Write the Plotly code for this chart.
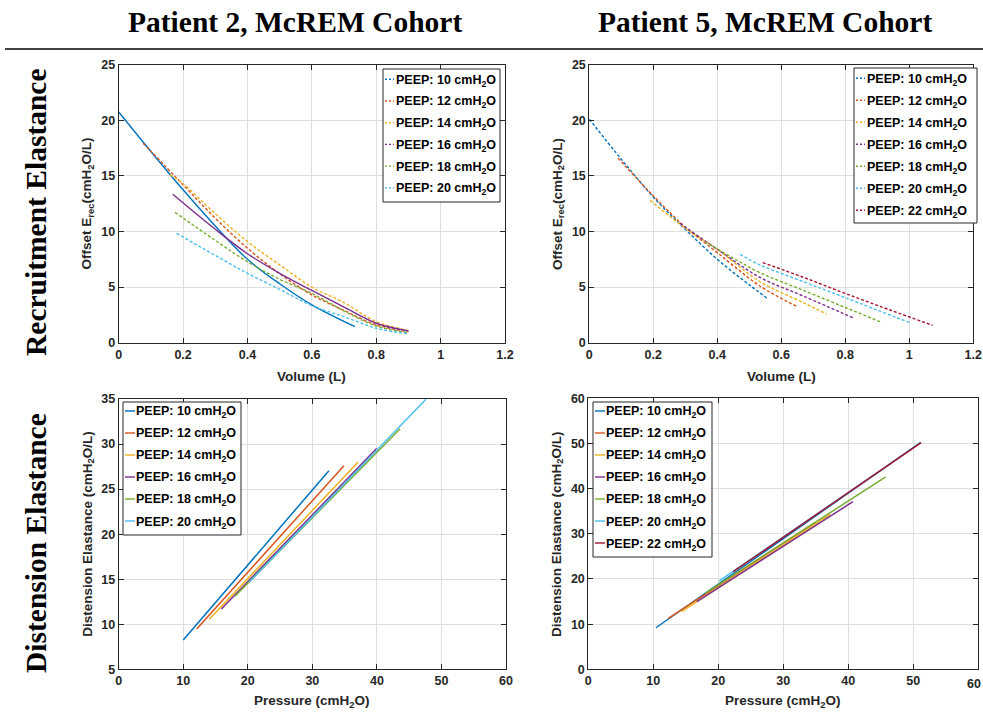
import plotly.graph_objects as go

W, H = 983, 715

# MATLAB-style default line colours
COLORS = ["#0072BD", "#D95319", "#EDB120", "#7E2F8E", "#77AC30", "#4DBEEE", "#A2142F"]

PEEP_P2 = [10, 12, 14, 16, 18, 20]
PEEP_P5 = [10, 12, 14, 16, 18, 20, 22]

# Patient 2 - offset recruitment elastance vs volume, one list per PEEP level
P2_REC_VOL = [
    [0.0, 0.1, 0.2, 0.3, 0.4, 0.5, 0.6, 0.734],
    [0.076, 0.2, 0.3, 0.4, 0.5, 0.6, 0.7, 0.8, 0.9],
    [0.16, 0.2, 0.3, 0.4, 0.5, 0.6, 0.7, 0.8, 0.9],
    [0.168, 0.3, 0.4, 0.5, 0.6, 0.7, 0.8, 0.9],
    [0.175, 0.3, 0.4, 0.5, 0.6, 0.7, 0.8, 0.9],
    [0.18, 0.3, 0.4, 0.5, 0.6, 0.7, 0.8, 0.9],
]
P2_REC_E = [
    [20.75, 17.2, 13.75, 10.5, 7.5, 5.3, 3.4, 1.44],
    [17.93, 14.2, 11.2, 8.5, 6.2, 4.3, 2.9, 1.6, 1.0],
    [15.1, 14.3, 11.6, 9.1, 7.0, 5.0, 3.6, 1.9, 1.1],
    [13.35, 10.2, 8.0, 6.24, 4.7, 3.2, 1.75, 1.05],
    [11.72, 9.2, 7.28, 5.7, 4.44, 2.85, 1.5, 0.9],
    [9.84, 7.85, 6.24, 4.8, 3.33, 2.34, 1.3, 0.8],
]

# Patient 5 - offset recruitment elastance vs volume
P5_REC_VOL = [
    [0.0, 0.1, 0.2, 0.3, 0.4, 0.5, 0.556],
    [0.09, 0.2, 0.3, 0.4, 0.533, 0.646],
    [0.19, 0.3, 0.4, 0.533, 0.669, 0.742],
    [0.283, 0.4, 0.533, 0.669, 0.828],
    [0.361, 0.45, 0.533, 0.669, 0.804, 0.911],
    [0.471, 0.533, 0.669, 0.804, 1.007],
    [0.542, 0.669, 0.804, 0.94, 1.073],
]
P5_REC_E = [
    [20.1, 16.5, 13.1, 10.2, 7.5, 5.2, 4.0],
    [16.6, 13.2, 10.4, 8.1, 5.1, 3.3],
    [12.8, 10.3, 8.4, 5.49, 3.6, 2.58],
    [10.74, 8.4, 5.88, 4.19, 2.19],
    [9.08, 7.6, 6.3, 4.71, 3.12, 1.86],
    [7.95, 7.0, 5.49, 4.0, 1.74],
    [7.2, 5.88, 4.38, 2.94, 1.56],
]

# Patient 2 - distension elastance vs pressure (start, end)
P2_DIS_P = [
    [10.0, 32.57], [12.08, 34.9], [14.03, 37.1],
    [15.9, 39.95], [18.0, 43.6], [20.2, 47.6],
]
P2_DIS_E = [
    [8.25, 27.04], [9.47, 27.6], [10.55, 28.0],
    [11.7, 29.5], [13.1, 31.7], [14.65, 34.97],
]

# Patient 5 - distension elastance vs pressure (start, end)
P5_DIS_P = [
    [10.4, 51.1], [12.3, 35.0], [14.36, 37.2], [16.7, 40.7],
    [17.95, 45.75], [20.15, 45.0], [22.3, 51.2],
]
P5_DIS_E = [
    [9.2, 50.2], [11.3, 32.6], [12.75, 34.3], [14.97, 37.1],
    [16.8, 42.6], [19.6, 44.07], [21.6, 50.2],
]

AXIS_COLOR = "#262626"
GRID_COLOR = "#DFDFDF"
SANS = "Liberation Sans, Arial, sans-serif"
TICK_FONT = dict(family=SANS, size=12.5, color=AXIS_COLOR, weight="bold")
TITLE_FONT = dict(family=SANS, size=13.5, color=AXIS_COLOR, weight="bold")
HEAD_FONT = dict(family="Liberation Serif, Times New Roman, serif",
                 size=29.5, color="black", weight="bold")
LEGEND_FONT = dict(family=SANS, size=12.5, color="black", weight="bold")


def fx(px):
    return px / W


def fy(py):
    return 1 - py / H


def axis_style(**kw):
    d = dict(showline=True, linecolor=AXIS_COLOR, linewidth=1, mirror="ticks",
             ticks="inside", ticklen=5, tickcolor=AXIS_COLOR, tickwidth=1,
             showgrid=True, gridcolor=GRID_COLOR, gridwidth=1, zeroline=False,
             tickfont=TICK_FONT, automargin=False)
    d.update(kw)
    return d


fig = go.Figure()

# Panel boxes in pixels: (left, right, top, bottom)
PANELS = {
    1: (118.7, 505.0, 64.7, 342.7),
    2: (589.3, 973.3, 64.7, 342.7),
    3: (118.7, 506.0, 399.0, 669.3),
    4: (588.3, 978.3, 398.3, 669.3),
}

DASH = "3px,2px"

# Recruitment elastance curves
for i, (vols, es) in enumerate(zip(P2_REC_VOL, P2_REC_E)):
    solid = i in (0, 3)
    fig.add_trace(go.Scatter(
        x=vols, y=es, mode="lines", xaxis="x", yaxis="y",
        line=dict(color=COLORS[i], width=1.4, shape="spline", smoothing=1.0,
                  dash="solid" if solid else DASH),
        name=f"PEEP: {PEEP_P2[i]} cmH2O", showlegend=False))

for i, (vols, es) in enumerate(zip(P5_REC_VOL, P5_REC_E)):
    fig.add_trace(go.Scatter(
        x=vols, y=es, mode="lines", xaxis="x2", yaxis="y2",
        line=dict(color=COLORS[i], width=1.4, shape="spline", smoothing=1.0,
                  dash=DASH),
        name=f"PEEP: {PEEP_P5[i]} cmH2O", showlegend=False))

# Distension elastance lines
for i, (ps, es) in enumerate(zip(P2_DIS_P, P2_DIS_E)):
    fig.add_trace(go.Scatter(
        x=ps, y=es, mode="lines", xaxis="x3", yaxis="y3",
        line=dict(color=COLORS[i], width=1.5),
        name=f"PEEP: {PEEP_P2[i]} cmH2O", showlegend=False))

for i, (ps, es) in enumerate(zip(P5_DIS_P, P5_DIS_E)):
    fig.add_trace(go.Scatter(
        x=ps, y=es, mode="lines", xaxis="x4", yaxis="y4",
        line=dict(color=COLORS[i], width=1.5),
        name=f"PEEP: {PEEP_P5[i]} cmH2O", showlegend=False))

VOL_TICKS = [0, 0.2, 0.4, 0.6, 0.8, 1.0, 1.2]
VOL_TEXT = ["0", "0.2", "0.4", "0.6", "0.8", "1", "1.2"]
P_TICKS = [0, 10, 20, 30, 40, 50, 60]

l, r, t, b = PANELS[1]
fig.update_layout(
    xaxis=axis_style(domain=[fx(l), fx(r)], range=[0, 1.2], anchor="y",
                     tickvals=VOL_TICKS, ticktext=VOL_TEXT),
    yaxis=axis_style(domain=[fy(b), fy(t)], range=[0, 25], anchor="x",
                     tickvals=[0, 5, 10, 15, 20, 25]),
)
l, r, t, b = PANELS[2]
fig.update_layout(
    xaxis2=axis_style(domain=[fx(l), fx(r)], range=[0, 1.2], anchor="y2",
                      tickvals=VOL_TICKS, ticktext=VOL_TEXT),
    yaxis2=axis_style(domain=[fy(b), fy(t)], range=[0, 25], anchor="x2",
                      tickvals=[0, 5, 10, 15, 20, 25]),
)
l, r, t, b = PANELS[3]
fig.update_layout(
    xaxis3=axis_style(domain=[fx(l), fx(r)], range=[0, 60], anchor="y3",
                      tickvals=P_TICKS),
    yaxis3=axis_style(domain=[fy(b), fy(t)], range=[5, 35], anchor="x3",
                      tickvals=[5, 10, 15, 20, 25, 30, 35]),
)
l, r, t, b = PANELS[4]
fig.update_layout(
    xaxis4=axis_style(domain=[fx(l), fx(r)], range=[0, 60], anchor="y4",
                      tickvals=P_TICKS),
    yaxis4=axis_style(domain=[fy(b), fy(t)], range=[0, 60], anchor="x4",
                      tickvals=[0, 10, 20, 30, 40, 50, 60]),
)

shapes = []
annotations = []


def text_at(px, py, txt, font, angle=0, xanchor="center"):
    annotations.append(dict(xref="paper", yref="paper", x=fx(px), y=fy(py),
                            xanchor=xanchor, yanchor="middle", showarrow=False,
                            textangle=angle, text=txt, font=font))


# The last pressure tick of the right-hand panel sits on the page edge,
# so it is kept inside the page, flush with the right border
text_at(W, 684, str(P_TICKS[-1]), TICK_FONT, xanchor="right")

# Axis titles
for n in (1, 2):
    l, r, t, b = PANELS[n]
    text_at((l + r) / 2, 376, "Volume (L)", TITLE_FONT)
    text_at(l - 31, (t + b) / 2, "Offset E<sub>rec</sub>(cmH<sub>2</sub>O/L)",
            TITLE_FONT, angle=-90)
for n in (3, 4):
    l, r, t, b = PANELS[n]
    text_at((l + r) / 2, 701, "Pressure (cmH<sub>2</sub>O)", TITLE_FONT)
    text_at(l - 31, (t + b) / 2, "Distension Elastance (cmH<sub>2</sub>O/L)",
            TITLE_FONT, angle=-90)


# Boxed legends: box (left, top, right, bottom) in pixels, first row centre, row pitch
def add_legend(box, first_y, pitch, peeps, line_dash, line_x0, line_x1, text_x):
    x0, y0, x1, y1 = box
    shapes.append(dict(type="rect", xref="paper", yref="paper",
                       x0=fx(x0), x1=fx(x1), y0=fy(y1), y1=fy(y0),
                       line=dict(color=AXIS_COLOR, width=1), fillcolor="white",
                       layer="above"))
    for k, peep in enumerate(peeps):
        yc = first_y + k * pitch
        shapes.append(dict(type="line", xref="paper", yref="paper",
                           x0=fx(line_x0), x1=fx(line_x1), y0=fy(yc), y1=fy(yc),
                           line=dict(color=COLORS[k], width=1.4, dash=line_dash),
                           layer="above"))
        text_at(text_x, yc + 1.5, f"PEEP: {peep} cmH<sub>2</sub>O", LEGEND_FONT,
                xanchor="left")


add_legend((383, 69, 500, 202), 79.3, 21.7, PEEP_P2, "2px,2px", 385, 394, 394)
add_legend((854, 68, 977, 223), 78.3, 22.0, PEEP_P5, "2px,2px", 856, 865, 865)
add_legend((123, 402, 241, 535), 411.0, 22.0, PEEP_P2, "solid", 125, 135, 134)
add_legend((593, 402, 712, 557), 411.0, 22.0, PEEP_P5, "solid", 595, 605, 604)

# Column headings and separating rule
text_at(295, 22, "Patient 2, McREM Cohort", HEAD_FONT)
text_at(765, 22, "Patient 5, McREM Cohort", HEAD_FONT)
shapes.append(dict(type="line", xref="paper", yref="paper",
                   x0=fx(5), x1=1, y0=fy(49), y1=fy(49),
                   line=dict(color="black", width=1.5)))

# Row headings
text_at(36, 212, "Recruitment Elastance", HEAD_FONT, angle=-90)
text_at(36, 543, "Distension Elastance", HEAD_FONT, angle=-90)

fig.update_layout(
    width=W, height=H, margin=dict(l=0, r=0, t=0, b=0),
    paper_bgcolor="white", plot_bgcolor="white",
    showlegend=False, shapes=shapes, annotations=annotations,
)

fig.write_html("out.html")
